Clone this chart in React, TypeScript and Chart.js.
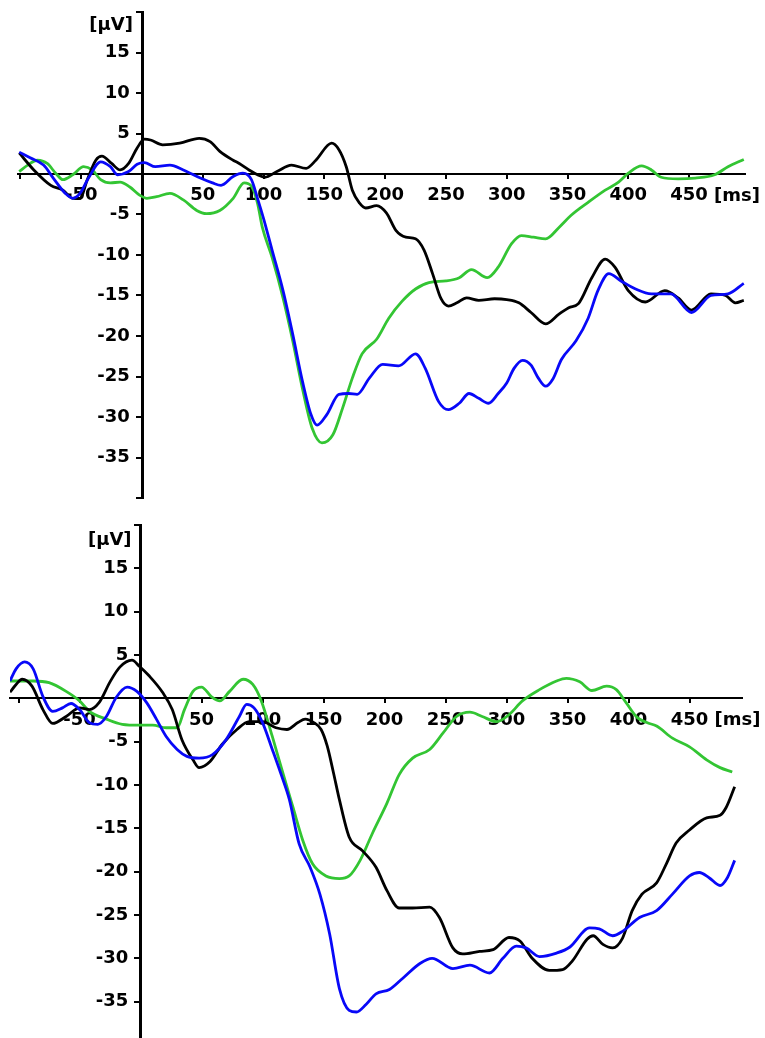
import React, { useEffect, useRef } from "react";
import { Chart, registerables } from "chart.js";

Chart.register(...registerables);

// ---------- data (time in ms, amplitude in µV) ----------
const topBlack: [number, number][] = [
  [-101, 2.6], [-89, 0.5], [-75, -1.4], [-65, -2.0], [-57, -3.0], [-51, -3.0], [-45, -0.7], [-38, 1.7],
  [-33, 2.2], [-25, 1.3], [-18, 0.5], [-11, 1.3], [-4, 3.2], [2, 4.3], [7, 4.2], [17, 3.6], [31, 3.8],
  [47, 4.4], [56, 4.0], [64, 2.8], [75, 1.7], [80, 1.3], [88, 0.5], [95, -0.1], [101, -0.4], [111, 0.3],
  [123, 1.1], [135, 0.7], [143, 1.7], [156, 3.8], [162, 3.0], [168, 0.9], [173, -2.0], [179, -3.6],
  [184, -4.2], [193, -3.9], [201, -4.8], [209, -7.0], [217, -7.8], [225, -8.0], [232, -9.4], [239, -12.3],
  [246, -15.4], [252, -16.3], [259, -15.9], [267, -15.3], [277, -15.6], [290, -15.4], [300, -15.5],
  [310, -15.9], [320, -17.1], [332, -18.5], [343, -17.3], [351, -16.5], [359, -16.0], [370, -12.8],
  [381, -10.5], [389, -11.5], [400, -14.4], [414, -15.8], [430, -14.4], [441, -15.3], [452, -16.8],
  [468, -14.8], [480, -15.0], [488, -15.9], [495, -15.6],
];
const topBlue: [number, number][] = [
  [-101, 2.7], [-92, 2.0], [-81, 1.1], [-73, -0.5], [-63, -2.4], [-57, -3.0], [-51, -2.4], [-44, -0.5],
  [-34, 1.5], [-26, 0.9], [-20, -0.1], [-11, 0.3], [-4, 1.2], [2, 1.4], [11, 0.9], [23, 1.1], [34, 0.5],
  [48, -0.5], [58, -1.1], [65, -1.4], [75, -0.3], [83, 0.1], [90, -0.7], [95, -3.0], [100, -5.5],
  [107, -9.4], [116, -14.4], [124, -19.8], [132, -25.6], [139, -29.7], [144, -31.0], [152, -29.7],
  [162, -27.2], [170, -27.1], [177, -27.2], [187, -25.2], [198, -23.5], [211, -23.7], [225, -22.2],
  [233, -24.0], [244, -28.1], [252, -29.1], [261, -28.3], [269, -27.1], [277, -27.7], [285, -28.3],
  [293, -27.1], [300, -25.8], [306, -24.0], [313, -23.0], [320, -23.6], [326, -25.2], [332, -26.2],
  [338, -25.3], [345, -22.9], [357, -20.6], [367, -17.8], [375, -14.4], [384, -12.3], [394, -13.2],
  [406, -14.2], [419, -14.8], [435, -14.8], [452, -17.1], [468, -15.0], [482, -14.8], [495, -13.5],
];
const topGreen: [number, number][] = [
  [-101, 0.3], [-94, 1.1], [-86, 1.7], [-78, 1.3], [-71, 0.1], [-65, -0.7], [-57, -0.1], [-48, 0.9],
  [-41, 0.5], [-34, -0.7], [-26, -1.1], [-18, -1.0], [-10, -1.6], [-2, -2.6], [4, -3.0], [12, -2.8],
  [23, -2.4], [34, -3.2], [45, -4.5], [53, -4.9], [64, -4.5], [75, -3.0], [84, -1.1], [90, -1.5],
  [95, -3.6], [99, -6.6], [107, -10.3], [116, -15.3], [124, -20.6], [132, -26.5],
  [140, -31.4], [148, -33.2], [157, -32.2], [165, -28.9], [173, -25.2], [181, -22.2], [193, -20.4],
  [203, -17.8], [214, -15.7], [225, -14.2], [236, -13.4], [250, -13.2], [261, -12.8], [271, -11.8],
  [284, -12.8], [293, -11.5], [304, -8.6], [312, -7.6], [322, -7.8], [332, -8.0], [343, -6.6],
  [353, -5.1], [367, -3.5], [381, -2.0], [392, -1.0], [400, 0.1], [411, 1.0], [419, 0.5], [427, -0.4],
  [441, -0.6], [455, -0.5], [471, -0.1], [482, 0.9], [495, 1.8],
];

const bottomBlack: [number, number][] = [
  [-107, 0.7], [-102, 1.6], [-97, 2.2], [-89, 1.4], [-80, -1.3], [-72, -2.9], [-61, -2.1], [-50, -1.1],
  [-42, -1.3], [-34, -0.5], [-25, 1.9], [-17, 3.6], [-7, 4.4], [-1, 3.7], [7, 2.6], [18, 0.7],
  [26, -1.3], [34, -4.8], [43, -7.1], [48, -8.0], [57, -7.3], [67, -5.3], [79, -3.6], [89, -2.7],
  [100, -2.7], [111, -3.4], [120, -3.6], [129, -2.8], [135, -2.4], [142, -2.8], [148, -3.6],
  [153, -5.5], [158, -8.5], [163, -11.7], [171, -16.0], [182, -17.6], [193, -19.5], [202, -22.2],
  [212, -24.2], [223, -24.2], [237, -24.1], [245, -25.3], [256, -28.8], [264, -29.5], [278, -29.2],
  [289, -29.0], [302, -27.6], [311, -28.0], [321, -30.0], [335, -31.4], [346, -31.3], [354, -30.3],
  [366, -27.8], [371, -27.4], [379, -28.4], [387, -28.8], [395, -27.7], [403, -24.5], [411, -22.6],
  [423, -21.3], [431, -19.1], [439, -16.7], [450, -15.2], [464, -13.8], [475, -13.5], [480, -12.6],
  [487, -10.2],
];
const bottomBlue: [number, number][] = [
  [-107, 2.0], [-102, 3.4], [-95, 4.2], [-88, 3.4], [-80, 0.2], [-72, -1.5], [-64, -1.1], [-57, -0.6],
  [-50, -1.3], [-42, -2.8], [-35, -3.0], [-28, -2.1], [-20, 0.1], [-11, 1.3], [-3, 0.8], [5, -0.5],
  [13, -2.4], [21, -4.4], [30, -5.9], [38, -6.7], [48, -6.9], [59, -6.5], [70, -4.8], [81, -2.1],
  [87, -0.7], [93, -1.1], [100, -2.8], [108, -5.9], [116, -9.1], [122, -11.7], [130, -16.8],
  [139, -19.5], [147, -22.6], [155, -27.2], [163, -33.5], [171, -36.0], [177, -36.2], [185, -35.3],
  [193, -34.1], [204, -33.6], [215, -32.3], [229, -30.6], [239, -30.0], [256, -31.2], [270, -30.8],
  [286, -31.7], [297, -30.0], [308, -28.6], [316, -28.8], [327, -29.8], [341, -29.4], [352, -28.7],
  [368, -26.5], [376, -26.6], [387, -27.4], [395, -26.9], [409, -25.3], [423, -24.5], [436, -22.6],
  [450, -20.5], [458, -20.1], [466, -20.7], [475, -21.6], [481, -20.7], [487, -18.7],
];
const bottomGreen: [number, number][] = [
  [-107, 2.0], [-88, 2.0], [-75, 1.8], [-61, 0.8], [-50, -0.3], [-42, -1.5], [-28, -2.4], [-15, -3.0],
  [-1, -3.1], [10, -3.1], [21, -3.4], [30, -3.4], [36, -1.3], [43, 0.8], [50, 1.3], [58, 0.2],
  [65, -0.3], [73, 0.8], [84, 2.2], [92, 1.6], [99, -0.3], [108, -4.4], [116, -8.3], [125, -12.6],
  [133, -16.4], [141, -19.1], [152, -20.5], [163, -20.8], [171, -20.5], [180, -18.7], [190, -15.6],
  [202, -12.1], [212, -8.8], [223, -6.9], [237, -5.9], [248, -4.0], [259, -2.1], [270, -1.6],
  [280, -2.1], [292, -2.7], [302, -1.9], [313, -0.3], [327, 1.0], [341, 2.0], [349, 2.3], [360, 1.9],
  [370, 0.9], [382, 1.4], [390, 1.0], [398, -0.5], [407, -2.2], [415, -2.8], [423, -3.2], [436, -4.6],
  [450, -5.6], [464, -7.1], [475, -8.0], [485, -8.5],
];

const xTickValues = [-100, -50, 0, 50, 100, 150, 200, 250, 300, 350, 400, 450];
const xHiddenLabels = [-100, 0];
const topYTickValues = [20, 15, 10, 5, 0, -5, -10, -15, -20, -25, -30, -35, -40];
const bottomYTickValues = [20, 15, 10, 5, 0, -5, -10, -15, -20, -25, -30, -35];
const yHiddenLabels = [20, 0, -40];
const yUnit = "[µV]";
const xUnit = "[ms]";

const COLORS = { black: "#000000", blue: "#0808f8", green: "#33c533" };
const FONT_FAMILY = '"DejaVu Sans", sans-serif';
const FONT_SIZE = 18;
const Y_LABEL_X = -10; // time value at which the y tick labels end (just left of the axis)

type Pt = [number, number];
interface PanelProps {
  black: Pt[];
  blue: Pt[];
  green: Pt[];
  xMin: number;
  xMax: number;
  yMin: number;
  yMax: number;
  yTicks: number[];
  pad: { left: number; right: number; top: number; bottom: number };
  height: number;
  top: number;
  unitOffset: number;
}

const unitLabelPlugin = {
  id: "unitLabels",
  afterDraw(chart: any, _args: any, opts: any) {
    const { ctx } = chart;
    const x = chart.scales.x;
    const y = chart.scales.y;
    ctx.save();
    ctx.font = `bold ${FONT_SIZE}px ${FONT_FAMILY}`;
    ctx.fillStyle = "#000";
    ctx.textBaseline = "middle";
    ctx.textAlign = "right";
    ctx.fillText(yUnit, x.getPixelForValue(0) - 9, y.getPixelForValue(y.max) + (opts.unitOffset || 12));
    ctx.textAlign = "left";
    ctx.fillText(xUnit, x.getPixelForValue(450) + 25, y.getPixelForValue(0) + 22);
    ctx.restore();
  },
};

function Panel(p: PanelProps) {
  const ref = useRef<HTMLCanvasElement | null>(null);
  useEffect(() => {
    if (!ref.current) return;
    const toPts = (arr: Pt[]) => arr.map(([x, y]) => ({ x, y }));
    const line = (data: Pt[], color: string) => ({
      data: toPts(data),
      borderColor: color,
      backgroundColor: color,
      borderWidth: 2.8,
      pointRadius: 0,
      cubicInterpolationMode: "monotone" as const,
      fill: false,
    });
    const zeroFit = (scale: any) => {
      if (scale.axis === "y") scale.width = 0;
      else scale.height = 0;
      scale.paddingTop = 0;
      scale.paddingBottom = 0;
      scale.paddingLeft = 0;
      scale.paddingRight = 0;
    };
    const tickFont = { family: FONT_FAMILY, size: FONT_SIZE, weight: "bold" as const };
    const yTicksBuild = (s: any) => {
      s.ticks = p.yTicks.map((v) => ({ value: v }));
    };
    const chart = new Chart(ref.current, {
      type: "line",
      data: {
        datasets: [line(p.blue, COLORS.blue), line(p.black, COLORS.black), line(p.green, COLORS.green)],
      },
      options: {
        animation: false,
        responsive: false,
        maintainAspectRatio: false,
        layout: { padding: p.pad },
        plugins: {
          legend: { display: false },
          tooltip: { enabled: false },
          unitLabels: { unitOffset: p.unitOffset },
        } as any,
        scales: {
          x: {
            type: "linear",
            min: p.xMin,
            max: p.xMax,
            position: { y: 0 } as any,
            afterBuildTicks: (s: any) => {
              s.ticks = xTickValues.map((v) => ({ value: v }));
            },
            afterFit: zeroFit,
            grid: {
              drawOnChartArea: false,
              drawTicks: true,
              tickLength: 4,
              lineWidth: 2,
              color: "#000",
            },
            border: { display: true, color: "#000", width: 2 },
            ticks: {
              autoSkip: false,
              maxRotation: 0,
              minRotation: 0,
              padding: 7,
              color: "#000",
              font: tickFont,
              callback: (v: any) => (xHiddenLabels.includes(Number(v)) ? "" : String(v)),
            },
          },
          y: {
            type: "linear",
            min: p.yMin,
            max: p.yMax,
            position: { x: 0 } as any,
            afterBuildTicks: yTicksBuild,
            afterFit: zeroFit,
            grid: {
              drawOnChartArea: false,
              drawTicks: true,
              tickLength: 5,
              lineWidth: 2,
              color: "#000",
            },
            border: { display: true, color: "#000", width: 3 },
            ticks: { display: false },
          },
          yLabels: {
            type: "linear",
            axis: "y",
            min: p.yMin,
            max: p.yMax,
            position: { x: Y_LABEL_X } as any,
            afterBuildTicks: yTicksBuild,
            afterFit: zeroFit,
            grid: { display: false },
            border: { display: false },
            ticks: {
              autoSkip: false,
              padding: 0,
              color: "#000",
              font: tickFont,
              callback: (v: any) => (yHiddenLabels.includes(Number(v)) ? "" : String(v)),
            },
          },
        } as any,
      },
      plugins: [unitLabelPlugin],
    });
    return () => chart.destroy();
  }, []);
  return (
    <div style={{ position: "absolute", left: 0, top: p.top, width: 765, height: p.height }}>
      <canvas ref={ref} width={765} height={p.height} style={{ width: 765, height: p.height, display: "block" }} />
    </div>
  );
}

export default function App() {
  return (
    <div
      style={{
        position: "absolute",
        left: 0,
        top: 0,
        width: 765,
        height: 1038,
        overflow: "hidden",
        background: "#fff",
      }}
    >
      <Panel
        black={topBlack}
        blue={topBlue}
        green={topGreen}
        xMin={-102}
        xMax={496}
        yMin={-40}
        yMax={20}
        yTicks={topYTickValues}
        pad={{ left: 18, right: 20, top: 12, bottom: 12 }}
        height={510}
        top={0}
        unitOffset={13}
      />
      <Panel
        black={bottomBlack}
        blue={bottomBlue}
        green={bottomGreen}
        xMin={-107}
        xMax={493}
        yMin={-39.2}
        yMax={20}
        yTicks={bottomYTickValues}
        pad={{ left: 10, right: 23, top: 15, bottom: 0 }}
        height={528}
        top={510}
        unitOffset={15}
      />
    </div>
  );
}
